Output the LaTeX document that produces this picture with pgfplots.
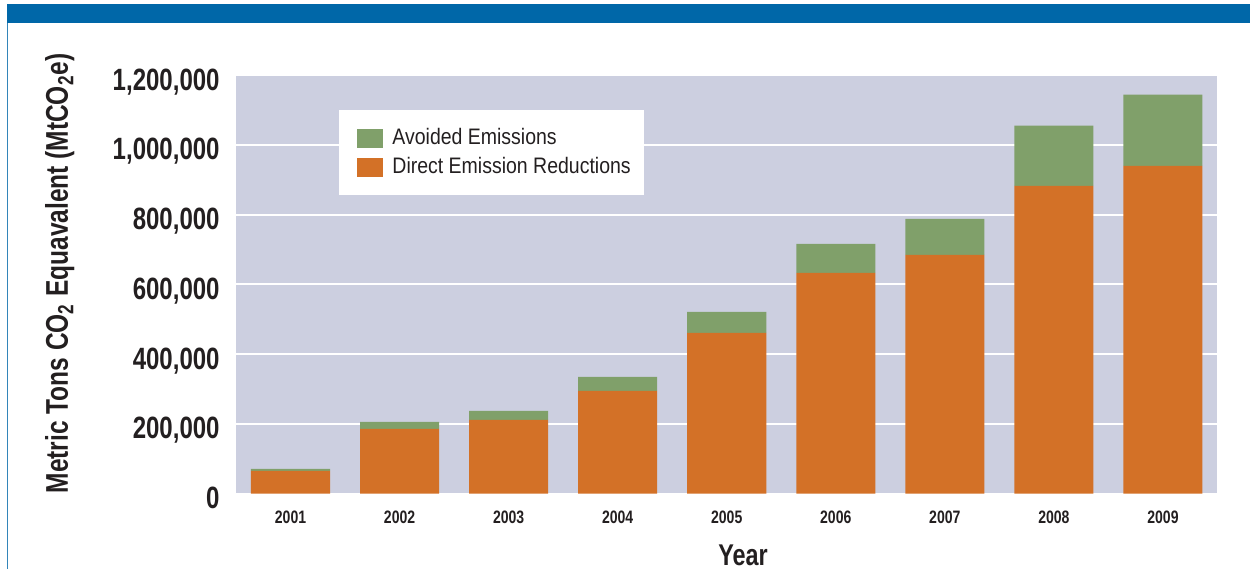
\documentclass[border=0pt]{standalone}
\usepackage{pgfplots}
\pgfplotsset{compat=1.18}
\usepackage{pgfplotstable}
\usepackage{fontspec}
\setmainfont{Liberation Sans}[FakeStretch=0.78]
\newfontfamily\legfont{Liberation Sans}[FakeStretch=0.87]
\definecolor{bandblue}{HTML}{0067A8}
\definecolor{plotbg}{HTML}{CCCFE0}
\definecolor{avgreen}{HTML}{80A06A}
\definecolor{dirorange}{HTML}{D37127}
\definecolor{txt}{HTML}{231F20}

\pgfplotstableread{
x direct avoided
0 64600 5700
1 185100 20100
2 210900 25800
3 294100 40200
4 460500 60300
5 632700 83300
6 684400 103300
7 882400 172100
8 939700 203800
}\datatable

\begin{document}
\begin{tikzpicture}
\useasboundingbox (0,0) rectangle (625pt,284.5pt);
\fill[bandblue] (3.5pt,273pt) rectangle (625pt,282.5pt);
\draw[bandblue!80, line width=0.5pt] (3.75pt,273pt) -- (3.75pt,0pt);
\begin{axis}[
  at={(118pt,37.75pt)}, anchor=south west,
  scale only axis, width=490.75pt, height=209.25pt,
  ybar stacked, bar width=0.725,
  xmin=-0.5, xmax=8.5, ymin=0, ymax=1200000,
  xtick=data,
  xticklabels={2001,2002,2003,2004,2005,2006,2007,2008,2009},
  ytick={0,200000,400000,600000,800000,1000000,1200000},
  yticklabels={0,{200,000},{400,000},{600,000},{800,000},{1,000,000},{1,200,000}},
  scaled y ticks=false,
  axis background/.style={fill=plotbg},
  axis line style={draw=none},
  major tick length=0pt,
  ymajorgrids, grid style={white, line width=1pt},
  yticklabel style={font=\fontsize{15.4}{16}\selectfont\bfseries, text=txt, anchor=base east, inner sep=0pt, xshift=-8pt, yshift=-7.5pt},
  xticklabel style={font=\fontsize{9}{10}\selectfont\bfseries, text=txt, anchor=base, inner sep=0pt, yshift=-14.75pt},
  ylabel={Metric Tons CO\textsubscript{2} Equavalent (MtCO\textsubscript{2}e)},
  ylabel style={font=\fontsize{15.7}{16}\selectfont\bfseries, text=txt, at={(axis description cs:-0.1712,0.5257)}, anchor=base, inner sep=0pt},
  xlabel={Year},
  xlabel style={font=\fontsize{15}{16}\selectfont\bfseries, text=txt, at={(axis description cs:0.5166,0)}, anchor=base, inner sep=0pt, yshift=-35.75pt},
  reverse legend,
  legend image code/.code={\path (-7pt,0pt); \fill[#1] (0pt,-4.75pt) rectangle (13pt,4.75pt);},
  legend style={at={(axis description cs:0.105,0.9164)}, anchor=north west, fill=white, draw=none,
    font=\legfont\fontsize{11.2}{12}\selectfont, text=txt,
    inner xsep=2pt, inner ysep=8pt, row sep=3pt,
    nodes={inner xsep=4.5pt, inner ysep=1pt}},
  legend cell align=left,
]
\addplot[fill=dirorange, draw=none] table[x=x, y=direct] {\datatable};
\addlegendentry{Direct Emission Reductions}
\addplot[fill=avgreen, draw=none] table[x=x, y=avoided] {\datatable};
\addlegendentry{Avoided Emissions}
\end{axis}
\end{tikzpicture}
\end{document}
